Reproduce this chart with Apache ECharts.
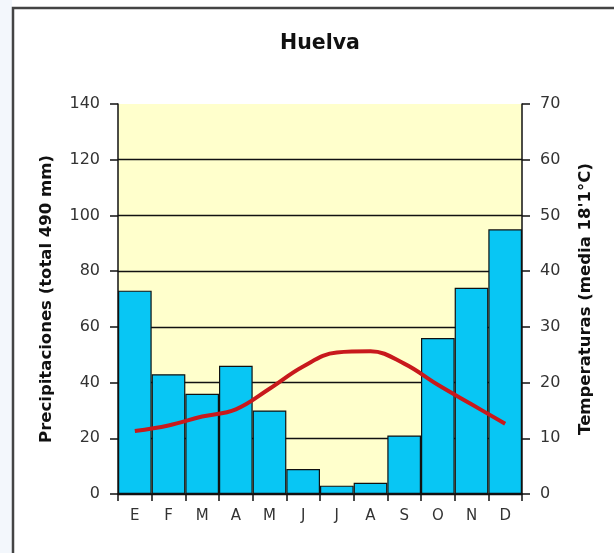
<!DOCTYPE html>
<html>
<head>
    <meta charset="utf-8">
    <title>Huelva</title>
    <script src="https://cdn.jsdelivr.net/npm/echarts@6/dist/echarts.min.js"></script>
    <style>
        html, body { margin: 0; padding: 0; background: #fff; }
    </style>
</head>
<body>
    <div id="main" style="width: 614px;height:553px;"></div>
    <script type="text/javascript">
        // datos del climograma
        var meses = ['E', 'F', 'M', 'A', 'M', 'J', 'J', 'A', 'S', 'O', 'N', 'D'];
        var precipitaciones = [73, 43, 36, 46, 30, 9, 3, 4, 21, 56, 74, 95];
        var temperaturas = [11.3, 12.3, 13.9, 15.2, 18.9, 22.9, 25.4, 25.6, 23.4, 19.6, 16.1, 12.6];

        var myChart = echarts.init(document.getElementById('main'));

        var fuente = 'DejaVu Sans, Verdana, sans-serif';

        option = {
            animation: false,
            backgroundColor: '#ffffff',
            textStyle: { fontFamily: fuente },
            graphic: [
                // franja azulada a la izquierda del marco
                { type: 'rect', left: 0, top: 0, shape: { width: 12, height: 553 }, style: { fill: '#f3f7fc' }, z: -10 },
                // marco
                { type: 'polyline', shape: { points: [[13, 553], [13, 8], [614, 8]] }, style: { stroke: '#444', lineWidth: 2.5, fill: null }, z: 10 }
            ],
            title: {
                text: 'Huelva',
                left: 275,
                top: 28,
                textStyle: { fontFamily: fuente, fontSize: 20.5, fontWeight: 'bold', color: '#111' }
            },
            grid: {
                left: 118,
                right: 92,
                top: 104,
                bottom: 59,
                show: true,
                backgroundColor: '#ffffcc',
                borderWidth: 0
            },
            xAxis: {
                type: 'category',
                data: meses,
                axisLine: { lineStyle: { color: '#111', width: 1.5 } },
                axisTick: { show: true, alignWithLabel: false, length: 7, lineStyle: { color: '#111', width: 1.5 } },
                axisLabel: { color: '#333', fontSize: 15, margin: 15, fontFamily: fuente },
                splitLine: { show: false }
            },
            yAxis: [
                {
                    type: 'value',
                    min: 0,
                    max: 140,
                    interval: 20,
                    name: 'Precipitaciones (total 490 mm)',
                    nameLocation: 'middle',
                    nameGap: 63,
                    nameTextStyle: { fontSize: 16.5, fontWeight: 'bold', color: '#111', fontFamily: fuente },
                    axisLine: { show: true, lineStyle: { color: '#111', width: 1.5 } },
                    axisTick: { show: true, length: 8, lineStyle: { color: '#111', width: 1.5 } },
                    axisLabel: { color: '#333', fontSize: 16, margin: 18, fontFamily: fuente },
                    splitLine: { show: true, showMaxLine: false, lineStyle: { color: '#111', width: 1.4 } }
                },
                {
                    type: 'value',
                    min: 0,
                    max: 70,
                    interval: 10,
                    position: 'right',
                    name: "Temperaturas (media 18'1°C)",
                    nameLocation: 'middle',
                    nameGap: 55,
                    nameRotate: 90,
                    nameTextStyle: { fontSize: 16.5, fontWeight: 'bold', color: '#111', fontFamily: fuente },
                    axisLine: { show: true, lineStyle: { color: '#111', width: 1.5 } },
                    axisTick: { show: true, length: 8, lineStyle: { color: '#111', width: 1.5 } },
                    axisLabel: { color: '#333', fontSize: 16, margin: 18, fontFamily: fuente },
                    splitLine: { show: false }
                }
            ],
            series: [
                {
                    name: 'Precipitaciones',
                    type: 'bar',
                    data: precipitaciones,
                    barCategoryGap: 0,
                    itemStyle: { color: '#08c6f4', borderColor: '#111', borderWidth: 1.2 }
                },
                {
                    name: 'Temperaturas',
                    type: 'line',
                    yAxisIndex: 1,
                    data: temperaturas,
                    smooth: 0.4,
                    symbol: 'none',
                    lineStyle: { color: '#c8191c', width: 4 },
                    z: 5
                }
            ]
        };

        myChart.setOption(option);
    </script>
</body>
</html>
